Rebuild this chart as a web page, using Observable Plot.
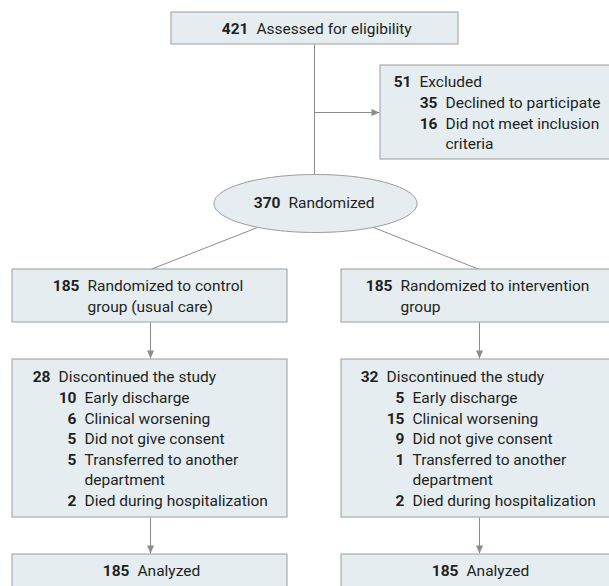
<!DOCTYPE html>
<html>
<head>
<meta charset="utf-8">
<script src="https://cdn.jsdelivr.net/npm/d3@7"></script>
<script src="https://cdn.jsdelivr.net/npm/@observablehq/plot@0.6"></script>
<style>
  html, body { margin: 0; padding: 0; background: #fff; overflow: hidden; }
  #chart { width: 609px; height: 586px; overflow: hidden; }
</style>
</head>
<body>
<div id="chart"></div>
<script>
// ---------- DATA ----------
const stageLabels = ["Assessed for eligibility", "Excluded", "Randomized"];
const stageCounts = [421, 51, 370];
const exclusionReasons = ["Declined to participate", "Did not meet inclusion\ncriteria"];
const exclusionCounts = [35, 16];
const groupLabels = ["Randomized to control\ngroup (usual care)", "Randomized to intervention\ngroup"];
const groupCounts = [185, 185];
const discontinuedLabel = "Discontinued the study";
const discontinuedCounts = [28, 32];
const discontinueReasons = ["Early discharge", "Clinical worsening", "Did not give consent", "Transferred to another\ndepartment", "Died during hospitalization"];
const controlReasonCounts = [10, 6, 5, 5, 2];
const interventionReasonCounts = [5, 15, 9, 1, 2];
const analyzedLabel = "Analyzed";
const analyzedCounts = [185, 185];

// ---------- LAYOUT ----------
const W = 609, H = 586;
const LH = 20.6, GAP = 8, FS = 15.5;
const FILL = "#e5edf1", STROKE = "#9c9c9c", LINE = "#8c8c8c", INK = "#231f20";
const colCenter = [150, 479];
const colBox = [[12, 287], [341, 617]];
const topBox = {x1: 171, x2: 458, y1: 12, y2: 44, ty: 29, numEnd: 248};
const excl = {x1: 380, x2: 617, y1: 65, y2: 159, ty: 82, numEnd: 411, subEnd: 437};
const ell = {cx: 315, cy: 203, rx: 101.5, ry: 29, numEnd: 280};
const grp = {y1: 269, y2: 322, ty: 286, numEnd: [79, 392]};
const disc = {y1: 359, y2: 517, ty: 377, numEnd: [50, 378], subEnd: [76, 404]};
const ana = {y1: 554, y2: 608, ty: 571, numEnd: [129, 458]};
const branchY = 112;

// boxes
const boxes = [
  {x1: topBox.x1, x2: topBox.x2, y1: topBox.y1, y2: topBox.y2},
  {x1: excl.x1, x2: excl.x2, y1: excl.y1, y2: excl.y2}
];
[0, 1].forEach(i => {
  boxes.push({x1: colBox[i][0], x2: colBox[i][1], y1: grp.y1, y2: grp.y2});
  boxes.push({x1: colBox[i][0], x2: colBox[i][1], y1: disc.y1, y2: disc.y2});
  boxes.push({x1: colBox[i][0], x2: colBox[i][1], y1: ana.y1, y2: ana.y2});
});

// text rows
const nums = [], labels = [];
function entry(numEnd, y, n, label) {
  nums.push({x: numEnd, y, t: String(n)});
  const lines = label.split("\n");
  lines.forEach((l, k) => labels.push({x: numEnd + GAP, y: y + k * LH, t: l}));
  return lines.length;
}
entry(topBox.numEnd, topBox.ty, stageCounts[0], stageLabels[0]);
entry(excl.numEnd, excl.ty, stageCounts[1], stageLabels[1]);
{
  let y = excl.ty + LH;
  exclusionReasons.forEach((r, i) => { y += entry(excl.subEnd, y, exclusionCounts[i], r) * LH; });
}
entry(ell.numEnd, ell.cy, stageCounts[2], stageLabels[2]);
const reasonCounts = [controlReasonCounts, interventionReasonCounts];
[0, 1].forEach(i => {
  entry(grp.numEnd[i], grp.ty, groupCounts[i], groupLabels[i]);
  entry(disc.numEnd[i], disc.ty, discontinuedCounts[i], discontinuedLabel);
  let y = disc.ty + LH;
  discontinueReasons.forEach((r, k) => { y += entry(disc.subEnd[i], y, reasonCounts[i][k], r) * LH; });
  entry(ana.numEnd[i], ana.ty, analyzedCounts[i], analyzedLabel);
});

// connectors
const links = [
  {x1: ell.cx - 1, y1: topBox.y2, x2: ell.cx - 1, y2: ell.cy - ell.ry},
  {x1: ell.cx - 1, y1: branchY, x2: excl.x1 - 1, y2: branchY},
  {x1: 257, y1: 227, x2: colCenter[0], y2: grp.y1},
  {x1: 373, y1: 227, x2: colCenter[1], y2: grp.y1}
];
const arrows = [{x: excl.x1 - 1, y: branchY, rot: -90}];
[0, 1].forEach(i => {
  links.push({x1: colCenter[i], y1: grp.y2, x2: colCenter[i], y2: disc.y1 - 1});
  links.push({x1: colCenter[i], y1: disc.y2, x2: colCenter[i], y2: ana.y1 - 1});
  arrows.push({x: colCenter[i], y: disc.y1 - 1, rot: 0});
  arrows.push({x: colCenter[i], y: ana.y1 - 1, rot: 0});
});

const ellipseSymbol = {
  draw(ctx) {
    const a = ell.rx, b = ell.ry, k = 0.5523;
    ctx.moveTo(a, 0);
    ctx.bezierCurveTo(a, b * k, a * k, b, 0, b);
    ctx.bezierCurveTo(-a * k, b, -a, b * k, -a, 0);
    ctx.bezierCurveTo(-a, -b * k, -a * k, -b, 0, -b);
    ctx.bezierCurveTo(a * k, -b, a, -b * k, a, 0);
    ctx.closePath();
  }
};
const arrowSymbol = {
  draw(ctx) {
    ctx.moveTo(0, 0);
    ctx.lineTo(-3.5, -8);
    ctx.lineTo(3.5, -8);
    ctx.closePath();
  }
};

const font = "Roboto, 'Liberation Sans', sans-serif";
const chart = Plot.plot({
  width: W, height: H, margin: 0,
  x: {domain: [0, W], range: [0, W], axis: null},
  y: {domain: [0, H], range: [0, H], axis: null},
  style: {background: "#fff", overflow: "hidden", fontFamily: font},
  marks: [
    Plot.link(links, {x1: "x1", y1: "y1", x2: "x2", y2: "y2", stroke: LINE, strokeWidth: 1}),
    Plot.rect(boxes, {x1: "x1", x2: "x2", y1: "y1", y2: "y2", fill: FILL, stroke: STROKE, strokeWidth: 1}),
    Plot.dot([ell], {x: "cx", y: "cy", r: 1, symbol: ellipseSymbol, fill: FILL, stroke: STROKE, strokeWidth: 1}),
    Plot.dot(arrows, {x: "x", y: "y", r: 1, rotate: "rot", symbol: arrowSymbol, fill: LINE, stroke: "none"}),
    Plot.text(nums, {x: "x", y: "y", text: "t", textAnchor: "end", fontWeight: "bold", fontSize: FS, fill: INK, fontFamily: font}),
    Plot.text(labels, {x: "x", y: "y", text: "t", textAnchor: "start", fontSize: FS, fill: INK, fontFamily: font})
  ]
});
document.getElementById("chart").appendChild(chart);
</script>
</body>
</html>
